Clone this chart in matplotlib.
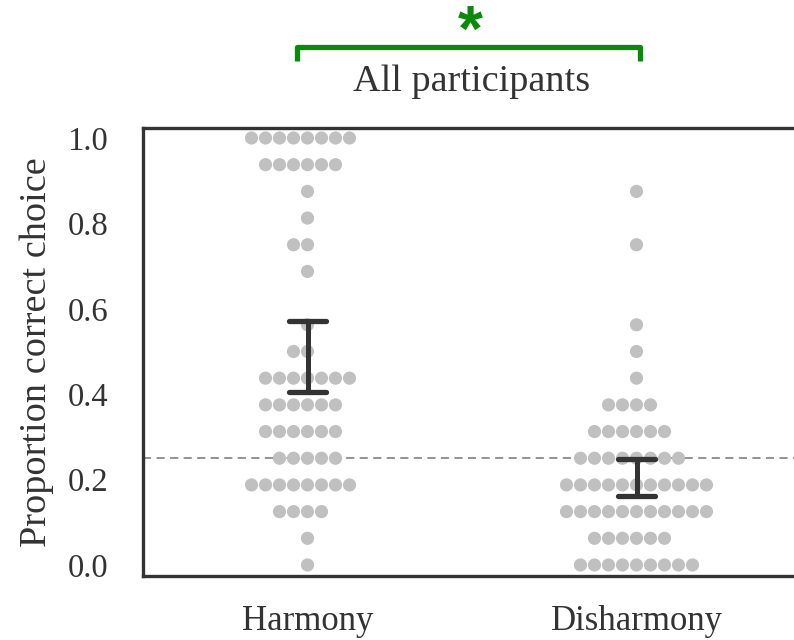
import numpy as np
import matplotlib
matplotlib.use("Agg")
import matplotlib.pyplot as plt

# ---- data ----
categories = ["Harmony", "Disharmony"]
levels = [0.0, 0.0625, 0.125, 0.1875, 0.25, 0.3125, 0.375, 0.4375, 0.5,
          0.5625, 0.625, 0.6875, 0.75, 0.8125, 0.875, 0.9375, 1.0]
harmony_counts = [1, 1, 4, 8, 5, 6, 6, 7, 2, 1, 0, 1, 2, 1, 1, 6, 8]
disharmony_counts = [9, 6, 11, 11, 8, 6, 4, 1, 1, 1, 0, 0, 1, 0, 1, 0, 0]
ci_low = [0.405, 0.162]
ci_high = [0.572, 0.248]
chance_level = 0.25
yticks = [0.0, 0.2, 0.4, 0.6, 0.8, 1.0]
title = "All participants"
ylabel = "Proportion correct choice"

plt.rcParams['font.family'] = ['Liberation Serif', 'DejaVu Serif']

fig = plt.figure(figsize=(7.94, 6.40), dpi=100)
ax = fig.add_axes([143/794, 1-576/640, (801-143)/794, (576-128)/640])
ax.set_xlim(-0.5, 1.5)
ax.set_ylim(-0.0258, 1.0234)

dx = 0.04255
dot_color = "#c0c0c0"
for xi, counts in enumerate([harmony_counts, disharmony_counts]):
    xs, ys = [], []
    for lv, n in zip(levels, counts):
        for k in range(n):
            off = -(n // 2) + k
            xs.append(xi + off * dx)
            ys.append(lv)
    ax.scatter(xs, ys, s=90, color=dot_color, edgecolors='none', zorder=2)

ax.axhline(chance_level, color="#8a8a8a", lw=1.3, ls=(0, (4.5, 3)), zorder=1)

for xi in range(len(categories)):
    ax.plot([xi, xi], [ci_low[xi], ci_high[xi]], color="#333333", lw=3.6,
            solid_capstyle='butt', zorder=3)
    for yv in (ci_low[xi], ci_high[xi]):
        ax.plot([xi - 0.056, xi + 0.056], [yv, yv], color="#333333", lw=3.8,
                solid_capstyle='round', zorder=3)

for s in ["top", "left", "bottom", "right"]:
    ax.spines[s].set_color("#333333")
    ax.spines[s].set_linewidth(2.4)

ax.set_xticks(range(len(categories)))
ax.set_xticklabels(categories)
ax.set_yticks(yticks)
ax.set_yticklabels([f"{t:.1f}" for t in yticks])
ax.tick_params(axis='both', length=0, colors="#333333")
ax.tick_params(axis='y', pad=25, labelsize=23.5)
ax.tick_params(axis='x', pad=21, labelsize=25)
ax.set_ylabel(ylabel, fontsize=27.5, color="#333333", labelpad=10)
ax.set_title(title, fontsize=27.5, color="#333333", pad=27)

# significance bracket
green = "#0a8a0a"
ax.plot([-0.033, -0.033, 1.012, 1.012], [1.18, 1.213, 1.213, 1.18],
        color=green, lw=3.8, clip_on=False, solid_joinstyle='round',
        solid_capstyle='butt')
ax.text(0.495, 1.243, "*", color=green, fontsize=46, fontweight='bold',
        family='Liberation Sans', ha='center', va='center', clip_on=False)

fig.savefig("out.png", dpi=100)
